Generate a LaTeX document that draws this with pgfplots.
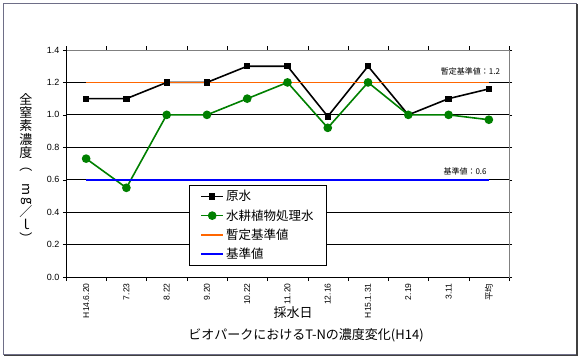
\documentclass[border=0pt]{standalone}
\usepackage{fontspec}
\setmainfont{Liberation Sans}
\newfontfamily\jp{Noto Sans CJK JP}
\usepackage{pgfplots}
\pgfplotsset{compat=1.18}
\definecolor{grn}{RGB}{0,128,0}
\definecolor{org}{RGB}{255,102,0}
\definecolor{blu}{RGB}{0,0,255}
\definecolor{frm}{RGB}{110,110,135}
\begin{document}
\begin{tikzpicture}[x=1pt,y=1pt]
\useasboundingbox (0,0) rectangle (582,360);
\fill[white] (0,0) rectangle (582,360);
\draw[frm, line width=1] (3.5,5.5) rectangle (576,356.5);
\draw[black!75, line width=1.2] (4,4.6) -- (577,4.6) -- (577,356);
\begin{axis}[
  at={(66pt,83pt)}, anchor=south west, scale only axis,
  width=443pt, height=227pt,
  xmin=-0.5, xmax=10.5, ymin=0, ymax=1.4,
  clip=false,
  axis line style={draw=gray},
  xtick={0,...,10},
  xticklabels={H14.6.20,7.23,8.22,9.20,10.22,11.20,12.16,H15.1.31,2.19,3.11,{\jp 平均}},
  x tick label style={rotate=90, anchor=east, font=\fontsize{8.5}{8.5}\selectfont},
  major x tick style={draw=none},
  minor xtick={-0.5,0.5,1.5,2.5,3.5,4.5,5.5,6.5,7.5,8.5,9.5,10.5},
  minor x tick style={black},
  minor tick length=4pt,
  tick align=outside,
  ytick={0,0.2,0.4,0.6,0.8,1.0,1.2,1.4},
  major tick length=3pt,
  y tick style={black},
  yticklabel style={font=\fontsize{9}{9}\selectfont, /pgf/number format/.cd, fixed, fixed zerofill, precision=1, assume math mode=true},
  extra y ticks={0.2,0.4,0.6,0.8,1.0,1.2},
  extra y tick labels={},
  extra y tick style={grid=major, major tick length=0pt},
  grid style={black, line width=0.8pt},
  legend style={at={(axis description cs:0.2777,0.405)}, anchor=north west,
    font=\jp\fontsize{12.5}{14}\selectfont, draw=black, line width=0.8pt,
    row sep=3.2pt, inner xsep=11pt, inner ysep=3pt},
  legend cell align=left,
  legend image code/.code={\draw[mark repeat=2,mark phase=2,#1] plot coordinates {(0pt,0pt) (11pt,0pt) (22pt,0pt)};},
]
\addplot[black, line width=1.6pt, mark=square*, mark size=2.3pt] coordinates {
(0,1.10) (1,1.10) (2,1.20) (3,1.20) (4,1.30) (5,1.30) (6,0.99) (7,1.30) (8,1.00) (9,1.10) (10,1.16)};
\addlegendentry{原水}
\addplot[grn, line width=1.6pt, mark=*, mark size=3.5pt] coordinates {
(0,0.73) (1,0.55) (2,1.00) (3,1.00) (4,1.10) (5,1.20) (6,0.92) (7,1.20) (8,1.00) (9,1.00) (10,0.97)};
\addlegendentry{水耕植物処理水}
\addplot[org, line width=1.6pt] coordinates {(0,1.2) (10,1.2)};
\addlegendentry{暫定基準値}
\addplot[blu, line width=1.6pt] coordinates {(0,0.6) (10,0.6)};
\addlegendentry{基準値}
\draw[black, line width=0.8pt] (axis description cs:0,1) -- (axis description cs:0,0) -- (axis description cs:1,0);
\node[anchor=east, font=\jp\fontsize{8}{8}\selectfont, inner sep=0pt] at (axis cs:10.28,1.265) {暫定基準値：1.2};
\node[anchor=east, font=\jp\fontsize{8}{8}\selectfont, inner sep=0pt] at (axis cs:9.95,0.654) {基準値：0.6};
\end{axis}
\node[anchor=north, font=\jp\fontsize{13}{13.3}\selectfont, align=center, inner sep=0pt] at (26,267) {全\\窒\\素\\濃\\度\\︵\\\rotatebox{-90}{m}\\\rotatebox{-90}{g}\\／\\ｌ\\︶};
\node[font=\jp\fontsize{13}{14}\selectfont] at (293,47) {採水日};
\node[font=\jp\fontsize{13}{14}\selectfont] at (306,25) {ビオパークにおけるT-Nの濃度変化(H14)};
\end{tikzpicture}
\end{document}
